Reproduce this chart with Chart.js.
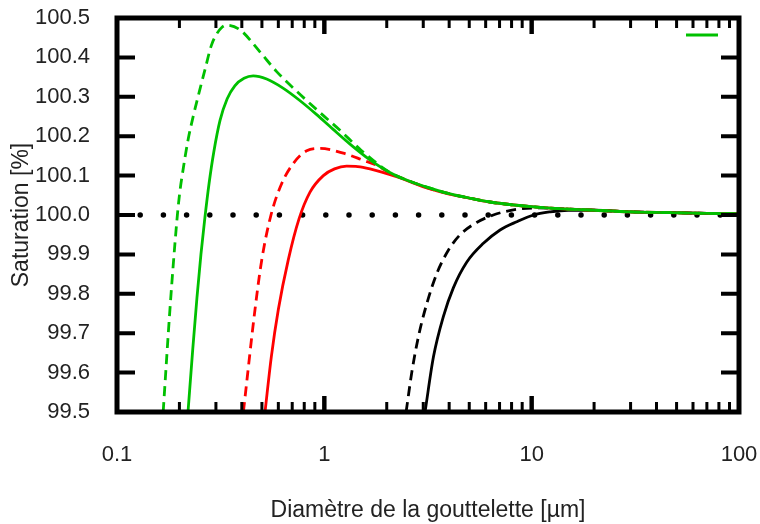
<!DOCTYPE html>
<html lang="fr">
<head>
<meta charset="utf-8">
<title>Courbes de Köhler</title>
<script src="https://cdn.jsdelivr.net/npm/chart.js@4.4.1/dist/chart.umd.min.js"></script>
<style>
    html, body { margin: 0; padding: 0; background: #fff; }
    #wrap { width: 760px; height: 524px; }
</style>
</head>
<body>
<div id="wrap"><canvas id="kohlerChart" width="760" height="524"></canvas></div>
<script>
// ========================================
// Données
// ========================================

// Diamètre [µm] / saturation [%]
const greenSolidD = [0.220, 0.232, 0.243, 0.254, 0.265, 0.278, 0.293, 0.314, 0.340, 0.370, 0.410, 0.454, 0.527, 0.632, 0.764, 0.922, 1.10, 1.33, 1.66, 2.07, 2.6, 3.24, 4.0, 5.0, 6.3, 8.0, 10.6, 15, 20, 30, 46, 70, 100];
const greenSolidS = [99.50, 99.66, 99.79, 99.90, 99.99, 100.08, 100.16, 100.24, 100.295, 100.328, 100.347, 100.353, 100.345, 100.322, 100.290, 100.254, 100.218, 100.180, 100.140, 100.108, 100.085, 100.068, 100.054, 100.043, 100.033, 100.026, 100.020, 100.015, 100.012, 100.008, 100.006, 100.004, 100.003];

const greenDashD = [0.167, 0.180, 0.194, 0.200, 0.209, 0.220, 0.233, 0.250, 0.266, 0.285, 0.303, 0.320, 0.338, 0.392, 0.489, 0.589, 0.736, 0.953, 1.19, 1.5, 2.07, 2.6, 3.24, 4.0, 5.0, 6.3, 8.0, 10.6, 15, 20, 30, 46, 70, 100];
const greenDashS = [99.50, 99.76, 99.98, 100.05, 100.12, 100.19, 100.25, 100.315, 100.37, 100.43, 100.46, 100.476, 100.482, 100.47, 100.414, 100.364, 100.314, 100.26, 100.215, 100.165, 100.108, 100.085, 100.068, 100.054, 100.043, 100.033, 100.026, 100.020, 100.015, 100.012, 100.008, 100.006, 100.004, 100.003];

const redSolidD = [0.5175, 0.555, 0.600, 0.670, 0.755, 0.853, 0.989, 1.12, 1.28, 1.45, 1.66, 2.23, 3.24, 4.0, 5.0, 6.3, 8.0, 10.6, 15, 20, 30, 46, 70, 100];
const redSolidS = [99.50, 99.64, 99.76, 99.886, 99.99, 100.058, 100.10, 100.117, 100.124, 100.123, 100.117, 100.097, 100.066, 100.053, 100.043, 100.033, 100.026, 100.020, 100.015, 100.012, 100.008, 100.006, 100.004, 100.003];

const redDashD = [0.407, 0.463, 0.499, 0.553, 0.623, 0.709, 0.822, 0.953, 1.235, 1.54, 1.79, 2.07, 2.6, 3.24, 4.0, 5.0, 6.3, 8.0, 10.6, 15, 20, 30, 46, 70, 100];
const redDashS = [99.50, 99.76, 99.886, 100.00, 100.08, 100.131, 100.163, 100.169, 100.157, 100.139, 100.126, 100.107, 100.085, 100.067, 100.054, 100.043, 100.033, 100.026, 100.020, 100.015, 100.012, 100.008, 100.006, 100.004, 100.003];

const blackSolidD = [3.06, 3.36, 3.75, 4.19, 4.86, 5.85, 7.04, 8.48, 10.2, 12.3, 15, 20, 30, 46, 70, 100];
const blackSolidS = [99.50, 99.64, 99.742, 99.815, 99.880, 99.928, 99.962, 99.983, 100.0, 100.008, 100.012, 100.012, 100.008, 100.006, 100.004, 100.003];

const blackDashD = [2.48, 2.64, 2.84, 3.12, 3.49, 3.97, 4.52, 5.43, 6.53, 8.16, 10.6, 15, 20, 30, 46, 70, 100];
const blackDashS = [99.50, 99.60, 99.69, 99.775, 99.852, 99.911, 99.950, 99.981, 100.0, 100.013, 100.018, 100.015, 100.012, 100.008, 100.006, 100.004, 100.003];

// Ligne de référence 100 %
const refD = [0.1, 100];
const refS = [100.0, 100.0];

// Graduations
const xTickValues = [0.1, 1, 10, 100];
const yTickValues = [99.5, 99.6, 99.7, 99.8, 99.9, 100.0, 100.1, 100.2, 100.3, 100.4, 100.5];

const GREEN = '#00c000';
const RED = '#ff0000';
const BLACK = '#000000';
const FONT = "'Liberation Sans', Arial, sans-serif";

// ========================================
// Utilitaires
// ========================================

function toPoints(xs, ys) {
    return xs.map((x, i) => ({ x: x, y: ys[i] }));
}

function curve(xs, ys, color, dashed) {
    return {
        data: toPoints(xs, ys),
        borderColor: color,
        borderWidth: 2.8,
        borderDash: dashed ? [10, 6] : [],
        pointRadius: 0,
        cubicInterpolationMode: 'monotone',
        fill: false
    };
}

// ========================================
// Cadre, graduations intérieures, légende
// ========================================

const framePlugin = {
    id: 'frame',
    afterDatasetsDraw(chart) {
        const { ctx, chartArea: a, scales } = chart;
        const x = scales.x, y = scales.y;
        ctx.save();
        ctx.strokeStyle = '#000';
        ctx.lineCap = 'butt';

        // graduations y (gauche et droite)
        ctx.lineWidth = 4;
        yTickValues.forEach(v => {
            const py = y.getPixelForValue(v);
            ctx.beginPath();
            ctx.moveTo(a.left, py); ctx.lineTo(a.left + 18, py);
            ctx.moveTo(a.right, py); ctx.lineTo(a.right - 18, py);
            ctx.stroke();
        });

        // graduations x (haut et bas), majeures et mineures
        for (let dec = 0.1; dec < 100; dec *= 10) {
            for (let m = 1; m <= 10; m++) {
                const px = x.getPixelForValue(dec * m);
                const major = (m === 1 || m === 10);
                const len = major ? 16 : 10;
                ctx.lineWidth = major ? 4 : 3;
                ctx.beginPath();
                ctx.moveTo(px, a.bottom); ctx.lineTo(px, a.bottom - len);
                ctx.moveTo(px, a.top); ctx.lineTo(px, a.top + len);
                ctx.stroke();
            }
        }

        // cadre
        ctx.lineWidth = 5;
        ctx.strokeRect(a.left, a.top, a.right - a.left, a.bottom - a.top);

        // échantillon de légende (sans texte)
        ctx.strokeStyle = GREEN;
        ctx.lineWidth = 3;
        ctx.beginPath();
        ctx.moveTo(a.right - 53, a.top + 17);
        ctx.lineTo(a.right - 21, a.top + 17);
        ctx.stroke();
        ctx.restore();
    }
};

// ========================================
// Graphique
// ========================================

const ctx = document.getElementById('kohlerChart').getContext('2d');

new Chart(ctx, {
    type: 'line',
    data: {
        datasets: [
            curve(greenSolidD, greenSolidS, GREEN, false),
            curve(greenDashD, greenDashS, GREEN, true),
            curve(redSolidD, redSolidS, RED, false),
            curve(redDashD, redDashS, RED, true),
            curve(blackSolidD, blackSolidS, BLACK, false),
            curve(blackDashD, blackDashS, BLACK, true),
            {
                data: toPoints(refD, refS),
                borderColor: BLACK,
                borderWidth: 5.5,
                borderDash: [0, 23.2],
                borderCapStyle: 'round',
                pointRadius: 0,
                fill: false
            }
        ]
    },
    options: {
        responsive: false,
        animation: false,
        events: [],
        layout: { padding: { top: 18, right: 21, left: 0, bottom: 0 } },
        plugins: {
            legend: { display: false },
            tooltip: { enabled: false }
        },
        scales: {
            x: {
                type: 'logarithmic',
                min: 0.1,
                max: 100,
                grid: { display: false, drawTicks: false },
                border: { display: false },
                afterBuildTicks: (scale) => {
                    scale.ticks = xTickValues.map(v => ({ value: v }));
                },
                afterFit: (scale) => {
                    scale.height = 112;
                    scale.paddingLeft = 0;
                    scale.paddingRight = 0;
                },
                ticks: {
                    color: '#222',
                    padding: 30,
                    maxRotation: 0,
                    font: { family: FONT, size: 22 },
                    callback: (v) => String(v)
                },
                title: {
                    display: true,
                    text: 'Diamètre de la gouttelette [µm]',
                    color: '#222',
                    font: { family: FONT, size: 23 },
                    padding: { top: 0, bottom: 0 }
                }
            },
            y: {
                type: 'linear',
                min: 99.5,
                max: 100.5,
                grid: { display: false, drawTicks: false },
                border: { display: false },
                afterBuildTicks: (scale) => {
                    scale.ticks = yTickValues.map(v => ({ value: v }));
                },
                afterFit: (scale) => {
                    scale.width = 117;
                    scale.paddingTop = 0;
                    scale.paddingBottom = 0;
                },
                ticks: {
                    color: '#222',
                    padding: 27,
                    font: { family: FONT, size: 22 },
                    callback: (v) => Number(v).toFixed(1)
                },
                title: {
                    display: true,
                    text: 'Saturation [%]',
                    color: '#222',
                    font: { family: FONT, size: 23 },
                    padding: { top: 8, bottom: 0 }
                }
            }
        }
    },
    plugins: [framePlugin]
});
</script>
</body>
</html>
